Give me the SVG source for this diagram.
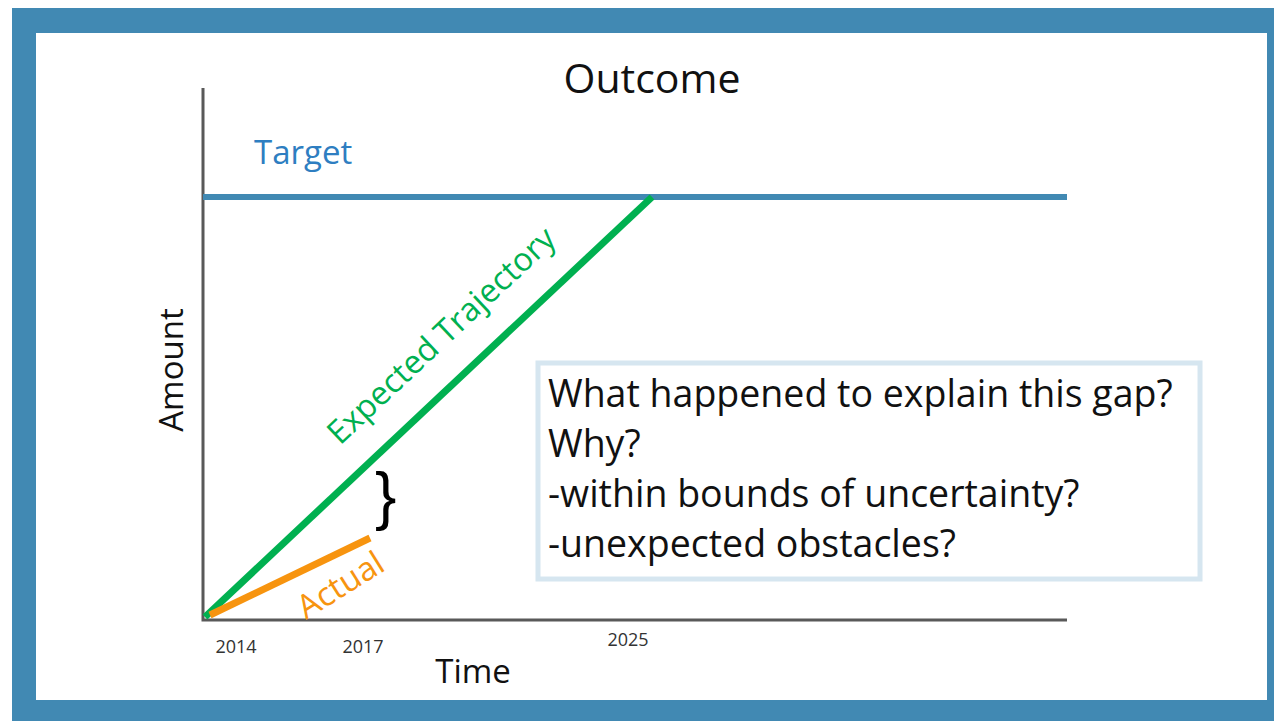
<svg xmlns="http://www.w3.org/2000/svg" width="1274" height="721" viewBox="0 0 1274 721">
<style>
text{font-family:"Open Sans","Noto Sans","Liberation Sans",sans-serif;}
.axis{stroke:#595959;stroke-width:3;fill:none;}
.yr{font-size:18px;fill:#333;}
.lbl{font-size:33px;fill:#111;}
.q{font-size:37.5px;fill:#111;}
</style>
<rect x="0" y="0" width="1274" height="721" fill="#ffffff"/>
<rect x="12" y="8" width="1262" height="713" fill="#4189B3"/>
<rect x="36" y="33" width="1231" height="667" fill="#ffffff"/>
<g id="title"><text x="652" y="93" text-anchor="middle" style="font-size:41px;fill:#111">Outcome</text></g>
<g id="axes">
<path class="axis" d="M203,88 V620 H1067"/>
<text class="lbl" transform="translate(183,370) rotate(-90)" text-anchor="middle">Amount</text>
<text class="lbl" x="473" y="683" text-anchor="middle">Time</text>
<text class="yr" x="236" y="653" text-anchor="middle">2014</text>
<text class="yr" x="363" y="653" text-anchor="middle">2017</text>
<text class="yr" x="628" y="646" text-anchor="middle">2025</text>
</g>
<g id="connectors">
<line x1="203" y1="197" x2="1067" y2="197" stroke="#4189B3" stroke-width="6"/>
<line x1="205" y1="617" x2="652" y2="197" stroke="#00B050" stroke-width="7"/>
<line x1="210" y1="615" x2="370" y2="538" stroke="#F7940F" stroke-width="7"/>
</g>
<g id="target"><text x="254" y="164" style="font-size:33px;fill:#2E7EC1">Target</text></g>
<g id="expected"><text transform="translate(340,446) rotate(-43.2)" style="font-size:32.5px;fill:#00B050">Expected Trajectory</text></g>
<g id="actual"><text transform="translate(306,620) rotate(-32)" style="font-size:33px;fill:#F7940F">Actual</text></g>
<g id="gap"><text x="375" y="518" style="font-size:64px;fill:#000;font-family:'Liberation Sans',sans-serif">}</text></g>
<g id="question">
<rect x="538" y="363" width="662" height="216" fill="#ffffff" stroke="#D6E6F0" stroke-width="5"/>
<text class="q" x="548" y="407">What happened to explain this gap?</text>
<text class="q" x="548" y="457">Why?</text>
<text class="q" x="548" y="507">-within bounds of uncertainty?</text>
<text class="q" x="548" y="557">-unexpected obstacles?</text>
</g>
</svg>
